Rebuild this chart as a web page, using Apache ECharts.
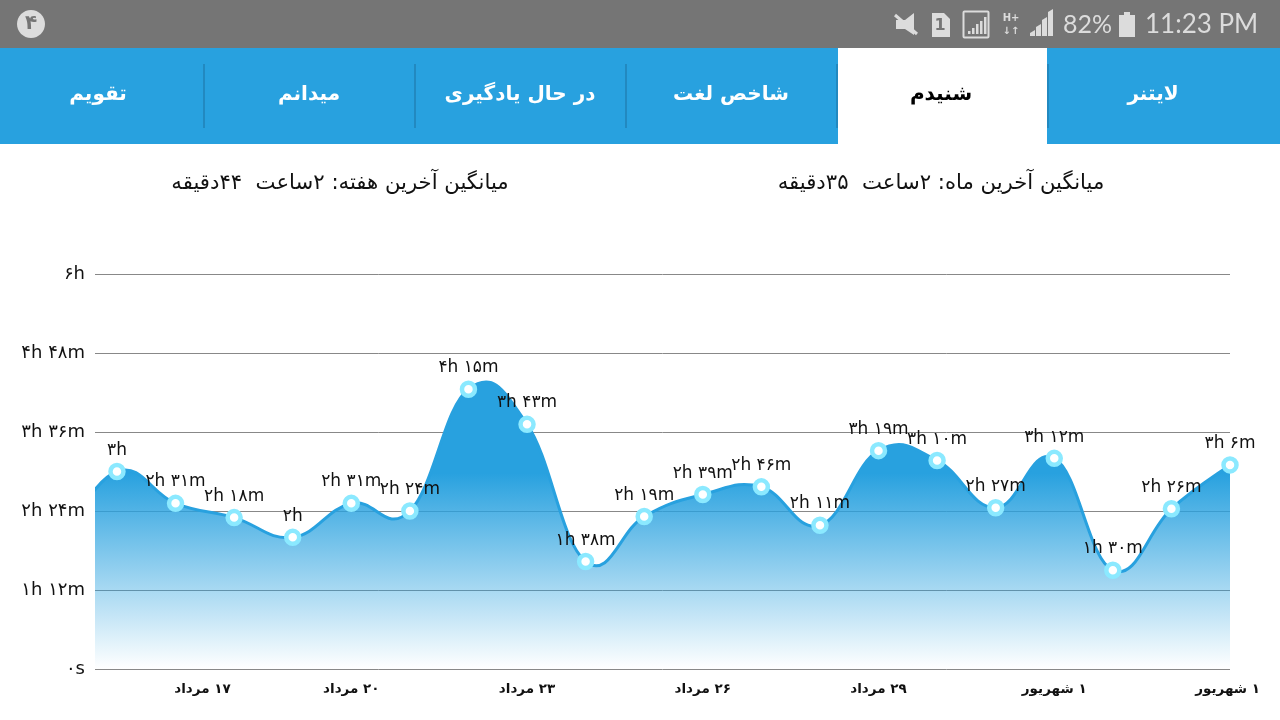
<!DOCTYPE html>
<html lang="fa"><head><meta charset="utf-8">
<style>html,body{margin:0;padding:0;background:#fff}#c{width:1280px;height:720px}</style>
<script src="https://cdn.jsdelivr.net/npm/echarts@6/dist/echarts.min.js"></script>
</head><body><div id="c"></div>
<script>
// minutes listened per sampled day
const minutes = [180,151,138,120,151,144,255,223,98,139,159,166,131,199,190,147,192,90,146,186];
// point that lies just left of the visible window, only shapes the curve's entry
const minutesBefore = 112;
const yTicks = [0,72,144,216,288,360];
const yTickLabels = ['۰s','۱h ۱۲m','۲h ۲۴m','۳h ۳۶m','۴h ۴۸m','۶h'];
const dateLabels = ['۱۷ مرداد','۲۰ مرداد','۲۳ مرداد','۲۶ مرداد','۲۹ مرداد','۱ شهریور','۱ شهریور'];
const datePositions = [1.46,4,7,10,13,16,18.96];
const tabs = ['تقویم','میدانم','در حال یادگیری','شاخص لغت','شنیدم','لایتنر'];
const headings = ['میانگین آخرین هفته: ۲ساعت  ۴۴دقیقه','میانگین آخرین ماه: ۲ساعت  ۳۵دقیقه'];

const FONT = '"DejaVu Sans"';
const BLUE = '#28a1df';
const TENSION = 0.21;
const fa = n => String(n).replace(/\d/g, d => '۰۱۲۳۴۵۶۷۸۹'[d]);
const dur = v => { const h = Math.floor(v/60), m = v%60; return fa(h)+'h'+(m? ' '+fa(m)+'m':''); };

const allPoints = [[-1,minutesBefore]].concat(minutes.map((v,i)=>[i,v]));
const seriesData = allPoints.map((p,i)=> i===0 ? {value:p,symbolSize:0,label:{show:false}} : {value:p});

// spline through the data points, mapped by the chart's own axes
function renderCurve(params, api){
  if(params.dataIndex!==0) return;
  const pts = allPoints.map(p=>api.coord(p));
  const base = api.coord([0,0])[1];
  const top = Math.min.apply(null,pts.map(p=>p[1]))-8;
  const at = i => pts[Math.max(0,Math.min(pts.length-1,i))];
  let d = 'M'+pts[0][0]+' '+pts[0][1];
  for(let i=0;i<pts.length-1;i++){
    const a=pts[i], b=pts[i+1], p=at(i-1), n=at(i+2);
    d += ' C'+(a[0]+(b[0]-p[0])*TENSION)+' '+(a[1]+(b[1]-p[1])*TENSION)
       +' '+(b[0]-(n[0]-a[0])*TENSION)+' '+(b[1]-(n[1]-a[1])*TENSION)
       +' '+b[0]+' '+b[1];
  }
  const last=pts[pts.length-1];
  return {type:'group',children:[
    {type:'path',shape:{pathData:d+' L'+last[0]+' '+base+' L'+pts[0][0]+' '+base+' Z'},
     style:{fill:new echarts.graphic.LinearGradient(0,top,0,base,[
        {offset:0,color:'rgba(40,161,223,1)'},{offset:0.32,color:'rgba(40,161,223,1)'},{offset:1,color:'rgba(40,161,223,0)'}],true),stroke:null}},
    {type:'path',shape:{pathData:d},style:{fill:null,stroke:BLUE,lineWidth:3}}
  ]};
}

const tabCenters=[98,309,520,731,941,1153], tabDiv=[203,414,625,836,1047];
const g=[];
g.push({type:'rect',shape:{x:0,y:0,width:1280,height:48},style:{fill:'#757575'},silent:true});
g.push({type:'rect',shape:{x:0,y:48,width:1280,height:96},style:{fill:BLUE},silent:true});
g.push({type:'rect',shape:{x:838,y:48,width:209,height:96},style:{fill:'#fff'},silent:true});
tabDiv.forEach(x=>g.push({type:'rect',shape:{x:x,y:64,width:2,height:64},style:{fill:'#2289c0'},silent:true}));
tabs.forEach((t,i)=>g.push({type:'text',x:tabCenters[i],y:95,style:{text:t,fill:i===4?'#000':'#fff',font:'bold 20px '+FONT,align:'center',verticalAlign:'middle'},silent:true}));
[340,941].forEach((x,i)=>g.push({type:'text',x:x,y:183,style:{text:headings[i],fill:'#111',font:'21.2px '+FONT,align:'center',verticalAlign:'middle'},silent:true}));
// status bar
const SB='#dcdcdc';
g.push({type:'ellipse',shape:{cx:31,cy:24,rx:14,ry:14},style:{fill:SB},silent:true});
g.push({type:'text',x:31,y:24,style:{text:'۴',fill:'#757575',font:'bold 20px '+FONT,align:'center',verticalAlign:'middle'},silent:true});
g.push({type:'polygon',shape:{points:[[896,20],[905,20],[914,13],[914,35],[905,29],[896,29]]},style:{fill:SB},silent:true});
g.push({type:'line',shape:{x1:895,y1:15,x2:917,y2:34},style:{stroke:SB,lineWidth:3},silent:true});
g.push({type:'polygon',shape:{points:[[932,13],[944,13],[950,19],[950,37],[932,37]]},style:{fill:SB},silent:true});
g.push({type:'text',x:940,y:26,style:{text:'1',fill:'#757575',font:'bold 16px '+FONT,align:'center',verticalAlign:'middle'},silent:true});
g.push({type:'rect',shape:{x:963.5,y:11.5,width:25,height:26,r:1},style:{fill:'none',stroke:SB,lineWidth:2},silent:true});
[[968,3],[972,6],[976,10],[980,13],[984,17]].forEach(b=>g.push({type:'rect',shape:{x:b[0],y:34-b[1],width:2.5,height:b[1]},style:{fill:SB},silent:true}));
g.push({type:'text',x:1011,y:18,style:{text:'H+',fill:SB,font:'bold 10px '+FONT,align:'center',verticalAlign:'middle'},silent:true});
g.push({type:'text',x:1011,y:31,style:{text:'↓↑',fill:SB,font:'bold 10px '+FONT,align:'center',verticalAlign:'middle'},silent:true});
[[1030,3],[1036,9],[1042,16],[1048,24]].forEach(b=>g.push({type:'polygon',shape:{points:[[b[0],36],[b[0]+5,36],[b[0]+5,36-b[1]-3],[b[0],36-b[1]]]},style:{fill:SB},silent:true}));
g.push({type:'text',x:1063,y:25,style:{text:'82%',fill:SB,font:'25px Lato',verticalAlign:'middle'},silent:true});
g.push({type:'rect',shape:{x:1119,y:15,width:16,height:22},style:{fill:SB},silent:true});
g.push({type:'rect',shape:{x:1124,y:12,width:6,height:3},style:{fill:SB},silent:true});
g.push({type:'text',x:1145,y:25,style:{text:'11:23 PM',fill:SB,font:'26px Lato',verticalAlign:'middle'},silent:true});

const chart = echarts.init(document.getElementById('c'),null,{renderer:'canvas'});
chart.setOption({
  animation:false,
  backgroundColor:'#fff',
  grid:{left:95,right:50,top:274,bottom:51},
  xAxis:{type:'value',min:-0.375,max:19,splitLine:{show:false},
    axisLine:{show:false},axisTick:{show:false},
    axisLabel:{customValues:datePositions,hideOverlap:false,margin:13,color:'#111',
      fontFamily:FONT,fontWeight:'bold',fontSize:13.5,
      formatter:v=>'\u200f'+dateLabels[datePositions.indexOf(v)]}},
  yAxis:{type:'value',min:0,max:360,interval:72,
    axisLine:{show:false},axisTick:{show:false},
    splitLine:{lineStyle:{color:'#888',width:1}},
    axisLabel:{margin:10,color:'#111',fontFamily:FONT,fontSize:18,
      formatter:v=>yTickLabels[yTicks.indexOf(v)]}},
  series:[
   {type:'custom',coordinateSystem:'cartesian2d',data:allPoints,clip:true,silent:true,
    encode:{x:0,y:1},renderItem:renderCurve,z:2},
   {type:'line',data:seriesData,smooth:true,z:3,
    lineStyle:{opacity:0},
    symbol:'circle',symbolSize:13,showSymbol:true,showAllSymbol:true,
    itemStyle:{color:'#fff',borderColor:'#8be9ff',borderWidth:4.5},
    label:{show:true,position:'top',distance:4,color:'#111',fontFamily:FONT,fontSize:17,
      formatter:p=>dur(p.value[1])},
    labelLayout:{hideOverlap:false}
   }],
  graphic:{elements:g}
});
</script></body></html>
